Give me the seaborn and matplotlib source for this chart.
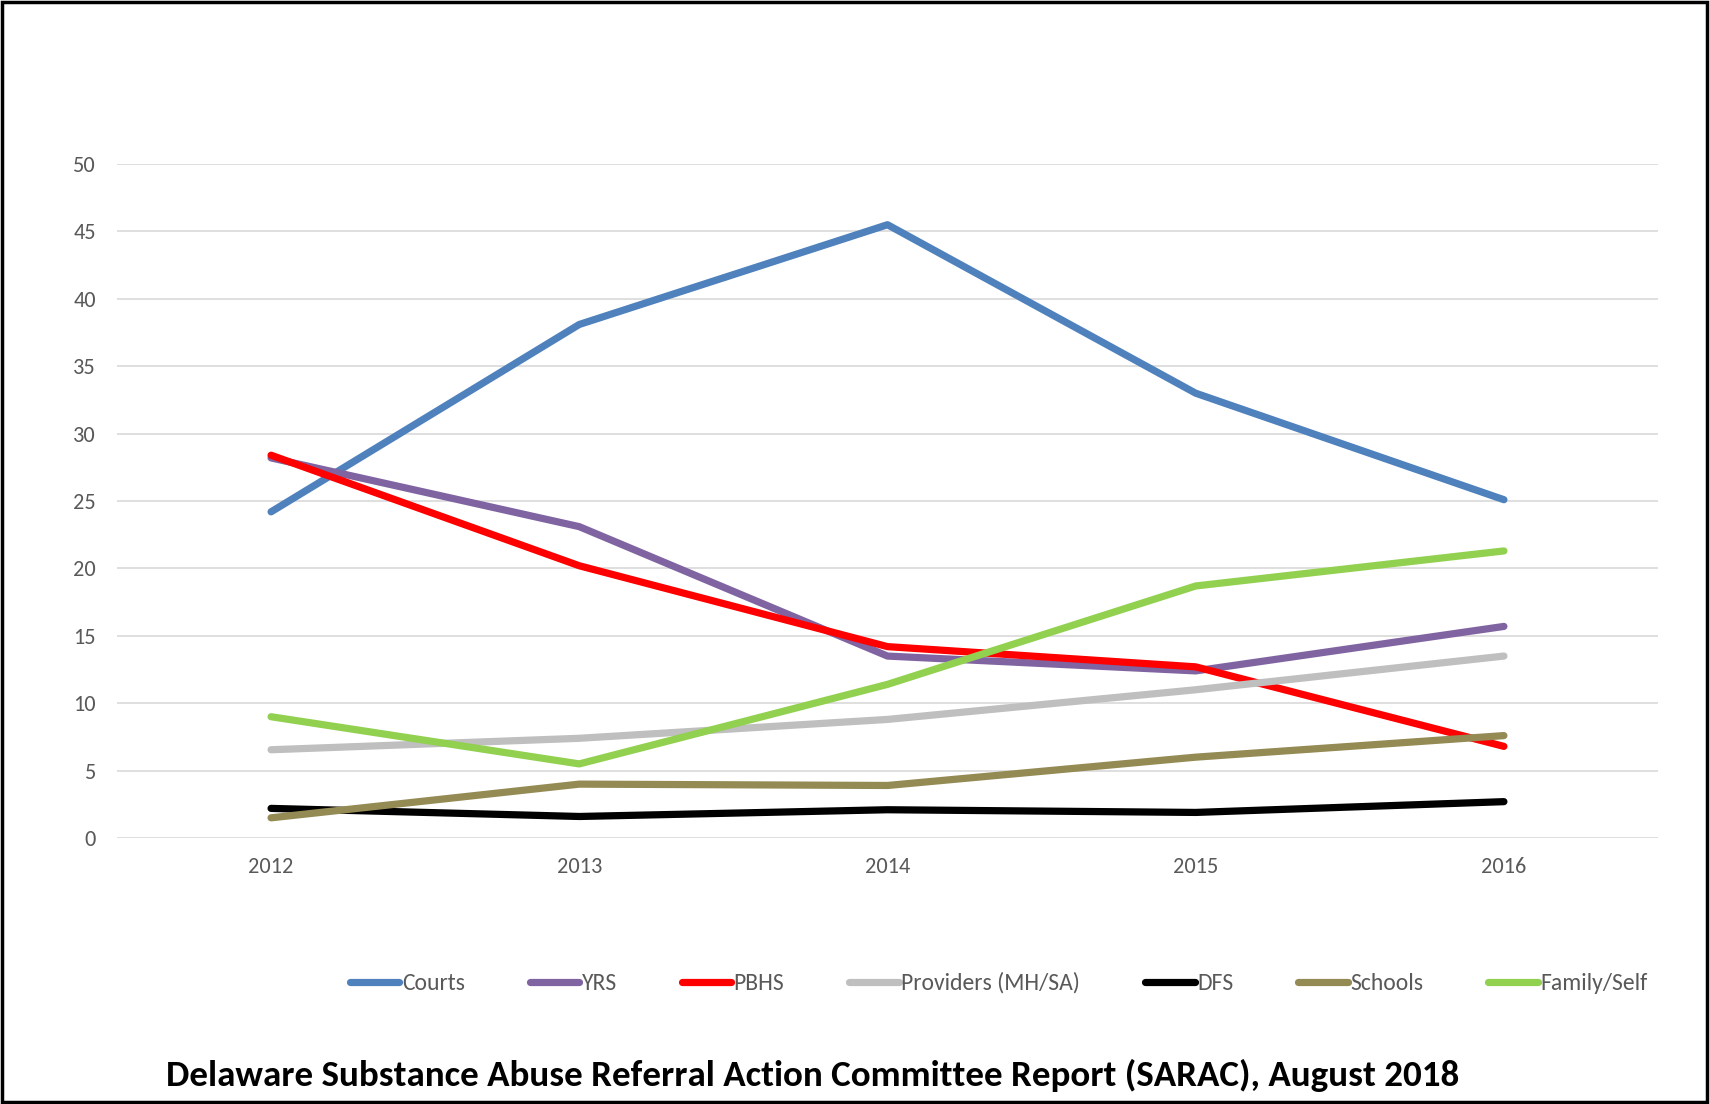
import matplotlib
matplotlib.use("Agg")
import matplotlib.pyplot as plt
import seaborn as sns
import pandas as pd
from matplotlib.patches import Rectangle
from matplotlib.lines import Line2D
import logging
logging.getLogger("matplotlib.font_manager").setLevel(logging.ERROR)

years = ["2012", "2013", "2014", "2015", "2016"]
series_names = ["Courts", "YRS", "PBHS", "Providers (MH/SA)", "DFS", "Schools", "Family/Self"]
courts = [24.2, 38.1, 45.5, 33.0, 25.1]
yrs = [28.2, 23.1, 13.5, 12.4, 15.7]
pbhs = [28.4, 20.2, 14.2, 12.7, 6.8]
providers = [6.55, 7.4, 8.8, 11.0, 13.5]
dfs = [2.2, 1.6, 2.1, 1.9, 2.7]
schools = [1.5, 4.0, 3.9, 6.0, 7.6]
family = [9.0, 5.5, 11.4, 18.7, 21.3]
colors = ["#4F81BD", "#8064A2", "#FF0000", "#BFBFBF", "#000000", "#948A54", "#92D050"]
yticks = [0, 5, 10, 15, 20, 25, 30, 35, 40, 45, 50]
title = "Delaware Substance Abuse Referral Action Committee Report (SARAC), August 2018"

FONT = ["Carlito", "Open Sans Condensed", "DejaVu Sans"]

values = [courts, yrs, pbhs, providers, dfs, schools, family]
rows = []
for name, vals in zip(series_names, values):
    for i, (yr, v) in enumerate(zip(years, vals)):
        rows.append({"Year": yr, "idx": i, "Series": name, "Value": v})
df = pd.DataFrame(rows)

sns.set_theme(style="white")
plt.rcParams["font.family"] = FONT
fig = plt.figure(figsize=(17.1, 11.04), dpi=100)
ax = fig.add_axes([0.0684, 0.2409, 0.9012, 0.6105])

LW = 5.2
sns.lineplot(data=df, x="idx", y="Value", hue="Series", hue_order=series_names,
             palette=dict(zip(series_names, colors)), ax=ax, linewidth=LW,
             legend=False, sort=False)
for ln in ax.get_lines():
    ln.set_solid_capstyle("round")
    ln.set_solid_joinstyle("round")

ax.set_xlim(-0.5, 4.5)
ax.set_ylim(0, 50)
ax.set_xticks(range(len(years)))
ax.set_xticklabels(years)
ax.set_yticks(yticks)
ax.set_yticklabels([str(t) for t in yticks])
ax.set_xlabel("")
ax.set_ylabel("")
for s in ax.spines.values():
    s.set_visible(False)
ax.yaxis.grid(True, color="#D9D9D9", linewidth=1.2)
ax.set_axisbelow(True)
ax.tick_params(axis="both", length=0, labelcolor="#595959", labelsize=16)
ax.tick_params(axis="x", pad=14)
ax.tick_params(axis="y", pad=15)

handles = [Line2D([], [], color=c, linewidth=LW, solid_capstyle="round") for c in colors]
leg = fig.legend(handles, series_names, loc="center", bbox_to_anchor=(0.584, 0.1096),
                 ncol=7, frameon=False, handlelength=2.1, handletextpad=0.1,
                 columnspacing=2.75, prop={"size": 17})
for t in leg.get_texts():
    t.set_color("#595959")

ttl = fig.text(0.4755, 0.026, title, ha="center", va="center", fontsize=26, fontweight="bold",
               color="black")
fig.canvas.draw()
w = ttl.get_window_extent().width
ttl.set_fontsize(26 * 1295.0 / w)

fig.patches.append(Rectangle((0.001, 0.002), 0.997, 0.996, transform=fig.transFigure,
                             fill=False, edgecolor="black", linewidth=2.5))

fig.savefig("out.png", dpi=100)
